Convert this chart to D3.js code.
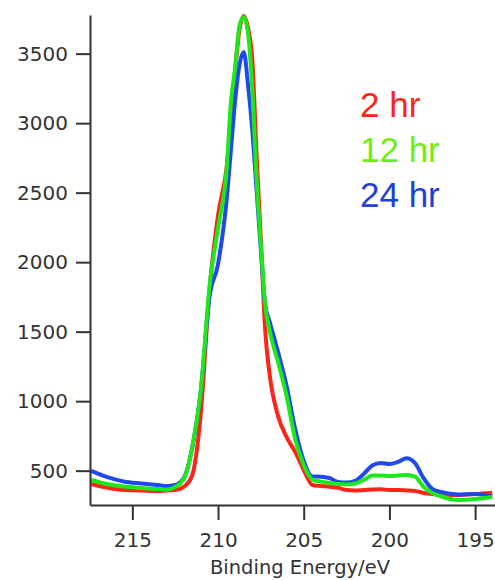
<!DOCTYPE html>
<html>
<head>
<meta charset="utf-8">
<script src="https://d3js.org/d3.v7.min.js"></script>
<style>
    body { margin: 0; background: #fff; }
    .axis path, .axis line { stroke: #333; stroke-width: 2; }
    .axis text { font-family: "DejaVu Sans", sans-serif; font-size: 20px; fill: #333; }
</style>
</head>
<body>
<div id="chart"></div>
<script>
// binding energy grid (eV)
var energy = [217.4, 216.5, 215.5, 214.5, 213.5, 213, 212.5, 212, 211.5, 211, 210.5, 210, 209.5, 209.25, 209,
    208.75, 208.5, 208.25, 208, 207.75, 207.5, 207.25, 207, 206.5, 206, 205.5, 205, 204.5, 204, 203.5, 203,
    202.5, 202, 201.5, 201, 200.5, 200, 199.5, 199, 198.5, 198, 197.5, 197, 196, 195, 194];

var counts2hr = [404, 379, 361, 358, 354, 358, 361, 383, 469, 920, 1798, 2338, 2677, 2993,
    3383, 3671, 3771, 3685, 3455, 2771, 2158, 1512, 1203, 894, 742, 635, 505, 397, 390, 385,
    376, 361, 358, 361, 365, 366, 361, 361, 358, 354, 340, 332, 325, 325, 332, 342];

var counts12hr = [433, 404, 386, 376, 368, 365, 383, 440, 670, 1081, 1822, 2245, 2663, 3147,
    3397, 3699, 3764, 3649, 3239, 2600, 2124, 1692, 1512, 1282, 1037, 728, 541, 437, 421, 412,
    404, 401, 408, 433, 465, 465, 462, 465, 469, 457, 383, 340, 316, 289, 296, 311];

var counts24hr = [498, 455, 422, 408, 397, 390, 397, 447, 670, 1081, 1748, 1986, 2446, 2806,
    3166, 3418, 3512, 3275, 2950, 2518, 2087, 1692, 1577, 1354, 1109, 800, 570, 458, 457, 447,
    419, 414, 426, 476, 537, 555, 548, 563, 589, 553, 445, 368, 347, 329, 332, 314];

var seriesNames = ["2 hr", "12 hr", "24 hr"];
var lineColors = ["#ff2418", "#1ee81a", "#1f48f0"];
var labelColors = ["#ff2418", "#6cf014", "#1f40d8"];

var yTicks = [500, 1000, 1500, 2000, 2500, 3000, 3500];
var xTicks = [215, 210, 205, 200, 195];

var svgWidth = 495, svgHeight = 580;
var margin = { top: 15, right: 0, bottom: 75, left: 90 };
var width = svgWidth - margin.left - margin.right;
var height = svgHeight - margin.top - margin.bottom;

var svg = d3.select("#chart").append("svg")
    .attr("width", svgWidth)
    .attr("height", svgHeight)
    .append("g")
    .attr("transform", "translate(" + margin.left + "," + margin.top + ")");

var x = d3.scaleLinear()
    .domain([217.47, 193.84])
    .range([0, width]);

var y = d3.scaleLinear()
    .domain([253, 3778])
    .range([height, 0]);

var line = d3.line()
    .x(function(d) { return x(d.e); })
    .y(function(d) { return y(d.v); })
    .curve(d3.curveMonotoneX);

var allSeries = [counts2hr, counts12hr, counts24hr];
// draw order: red, blue, green on top
[0, 2, 1].forEach(function(i) {
    var pts = energy.map(function(e, j) { return { e: e, v: allSeries[i][j] }; });
    svg.append("path")
        .datum(pts)
        .attr("fill", "none")
        .attr("stroke", lineColors[i])
        .attr("stroke-width", 4)
        .attr("stroke-linejoin", "round")
        .attr("d", line);
});

svg.append("g")
    .attr("class", "axis")
    .attr("transform", "translate(0," + height + ")")
    .call(d3.axisBottom(x).tickValues(xTicks).tickSize(15).tickSizeOuter(0).tickPadding(13).tickFormat(d3.format("d")));

svg.append("g")
    .attr("class", "axis")
    .call(d3.axisLeft(y).tickValues(yTicks).tickSize(14).tickSizeOuter(0).tickPadding(8).tickFormat(d3.format("d")));

svg.append("text")
    .attr("x", 300 - margin.left)
    .attr("y", 574 - margin.top)
    .attr("text-anchor", "middle")
    .attr("font-family", "DejaVu Sans, sans-serif")
    .attr("font-size", "19.5px")
    .attr("fill", "#333")
    .text("Binding Energy/eV");

seriesNames.forEach(function(name, i) {
    svg.append("text")
        .attr("x", 360 - margin.left)
        .attr("y", 117 + i * 45 - margin.top)
        .attr("font-family", "Liberation Sans, Arial, sans-serif")
        .attr("font-size", "35px")
        .attr("fill", labelColors[i])
        .text(name);
});
</script>
</body>
</html>
